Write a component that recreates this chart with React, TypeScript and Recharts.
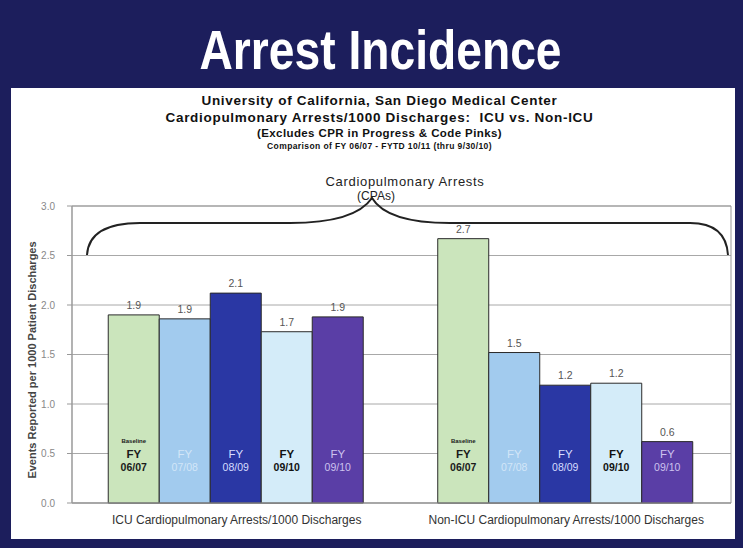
import React from "react";
import {
  BarChart,
  Bar,
  XAxis,
  YAxis,
  CartesianGrid,
  LabelList,
  ReferenceArea,
} from "recharts";

const categories = [
  "ICU Cardiopulmonary Arrests/1000 Discharges",
  "Non-ICU Cardiopulmonary Arrests/1000 Discharges",
];
const fy0607 = [1.9, 2.67];
const fy0708 = [1.86, 1.52];
const fy0809 = [2.12, 1.19];
const fy0910 = [1.73, 1.21];
const fy1011 = [1.88, 0.62];
const yTicks = [0, 0.5, 1, 1.5, 2, 2.5, 3];

const data = categories.map((name, i) => ({
  name,
  fy0607: fy0607[i],
  fy0708: fy0708[i],
  fy0809: fy0809[i],
  fy0910: fy0910[i],
  fy1011: fy1011[i],
}));

const series = [
  { key: "fy0607", fill: "#cbe5bc", text: "#1a1a1a", note: "Baseline", period: "06/07", bold: true },
  { key: "fy0708", fill: "#a2cbee", text: "#d2e6f8", note: "", period: "07/08", bold: false },
  { key: "fy0809", fill: "#2a37a4", text: "#d6ddff", note: "", period: "08/09", bold: false },
  { key: "fy0910", fill: "#d4ecf9", text: "#111", note: "", period: "09/10", bold: true },
  { key: "fy1011", fill: "#5a3ea6", text: "#cdc3ee", note: "", period: "09/10", bold: false },
];

const font = "'Liberation Sans', Arial, sans-serif";

function insideLabel(s: (typeof series)[number]) {
  return (props: any) => {
    const { x, y, width, height } = props;
    const cx = Number(x) + Number(width) / 2;
    const bottom = Number(y) + Number(height);
    const w = s.bold ? 700 : 400;
    return (
      <g fontFamily={font} textAnchor="middle">
        {s.note && (
          <text x={cx} y={bottom - 60} fontSize={6} fill={s.text} fontWeight={700}>
            {s.note}
          </text>
        )}
        <text x={cx} y={bottom - 45} fontSize={11.5} fill={s.text} fontWeight={w}>
          FY
        </text>
        <text x={cx} y={bottom - 32} fontSize={10.5} fill={s.text} fontWeight={w}>
          {s.period}
        </text>
      </g>
    );
  };
}

export default function App() {
  return (
    <div
      style={{
        position: "absolute",
        left: 0,
        top: 0,
        width: 743,
        height: 548,
        background: "#1c1e5c",
        fontFamily: font,
        overflow: "hidden",
      }}
    >
      <div
        style={{
          position: "absolute",
          top: 20,
          left: 9,
          width: 743,
          textAlign: "center",
          color: "#fff",
          fontSize: 55,
          fontWeight: 700,
          lineHeight: "60px",
        }}
      >
        <span style={{ display: "inline-block", transform: "scaleX(0.84)" }}>Arrest Incidence</span>
      </div>
      <div
        style={{
          position: "absolute",
          left: 11,
          top: 88,
          width: 724,
          height: 451,
          background: "#fff",
        }}
      />
      <div
        style={{
          position: "absolute",
          top: 92,
          left: 8,
          width: 743,
          textAlign: "center",
          color: "#111",
          fontWeight: 700,
        }}
      >
        <div style={{ fontSize: 13.5, lineHeight: "17px", letterSpacing: 0.7 }}>
          University of California, San Diego Medical Center
        </div>
        <div style={{ fontSize: 13.5, lineHeight: "17px", letterSpacing: 0.7 }}>
          Cardiopulmonary Arrests/1000 Discharges:&nbsp; ICU vs. Non-ICU
        </div>
        <div style={{ fontSize: 11.5, lineHeight: "15px", letterSpacing: 0.4 }}>
          (Excludes CPR in Progress &amp; Code Pinks)
        </div>
        <div style={{ fontSize: 8.5, lineHeight: "11px", letterSpacing: 0.4 }}>
          Comparison of FY 06/07 - FYTD 10/11 (thru 9/30/10)
        </div>
      </div>
      <div style={{ position: "absolute", left: 0, top: 0 }}>
        <BarChart
          width={743}
          height={548}
          data={data}
          margin={{ top: 206, right: 12, left: 12, bottom: 15 }}
          barCategoryGap="11%"
          barGap={0}
        >
          <CartesianGrid vertical={false} stroke="#a8a8a8" />
          <ReferenceArea y1={0} y2={3} fill="none" fillOpacity={0} stroke="#999" />
          <XAxis
            dataKey="name"
            height={30}
            tickLine={false}
            axisLine={{ stroke: "#999" }}
            tickMargin={6}
            tick={{ fill: "#333", fontSize: 12, fontFamily: font }}
            interval={0}
          />
          <YAxis
            width={60}
            domain={[0, 3]}
            ticks={yTicks}
            tickFormatter={(v: number) => v.toFixed(1)}
            tickSize={5}
            tickMargin={12}
            axisLine={{ stroke: "#999" }}
            tickLine={{ stroke: "#999" }}
            tick={{ fill: "#888", fontSize: 10, fontFamily: font }}
          />
          {series.map((s) => (
            <Bar
              key={s.key}
              dataKey={s.key}
              fill={s.fill}
              stroke="#2a2a2a"
              strokeWidth={1}
              isAnimationActive={false}
            >
              <LabelList
                dataKey={s.key}
                position="top"
                offset={6}
                formatter={(v: any) => Number(v).toFixed(1)}
                style={{ fill: "#555", fontSize: 10.5, fontFamily: font }}
              />
              <LabelList dataKey={s.key} content={insideLabel(s)} />
            </Bar>
          ))}
        </BarChart>
      </div>
      <svg
        width={743}
        height={548}
        style={{ position: "absolute", left: 0, top: 0, pointerEvents: "none" }}
      >
        <path
          d="M87,255 Q89,223 140,223 L290,223 Q355,223 372,198 Q387,223 450,223 L690,223 Q726,223 728,255"
          fill="none"
          stroke="#222"
          strokeWidth={2}
        />
        <text x={405} y={186} textAnchor="middle" fontSize={13} letterSpacing={0.7} fill="#222" fontFamily={font}>
          Cardiopulmonary Arrests
        </text>
        <text x={376} y={200} textAnchor="middle" fontSize={12} fill="#222" fontFamily={font}>
          (CPAs)
        </text>
        <text
          transform="translate(36,360) rotate(-90)"
          textAnchor="middle"
          fontSize={11}
          fontWeight={700}
          fill="#444"
          fontFamily={font}
        >
          Events Reported per 1000 Patient Discharges
        </text>
      </svg>
    </div>
  );
}
